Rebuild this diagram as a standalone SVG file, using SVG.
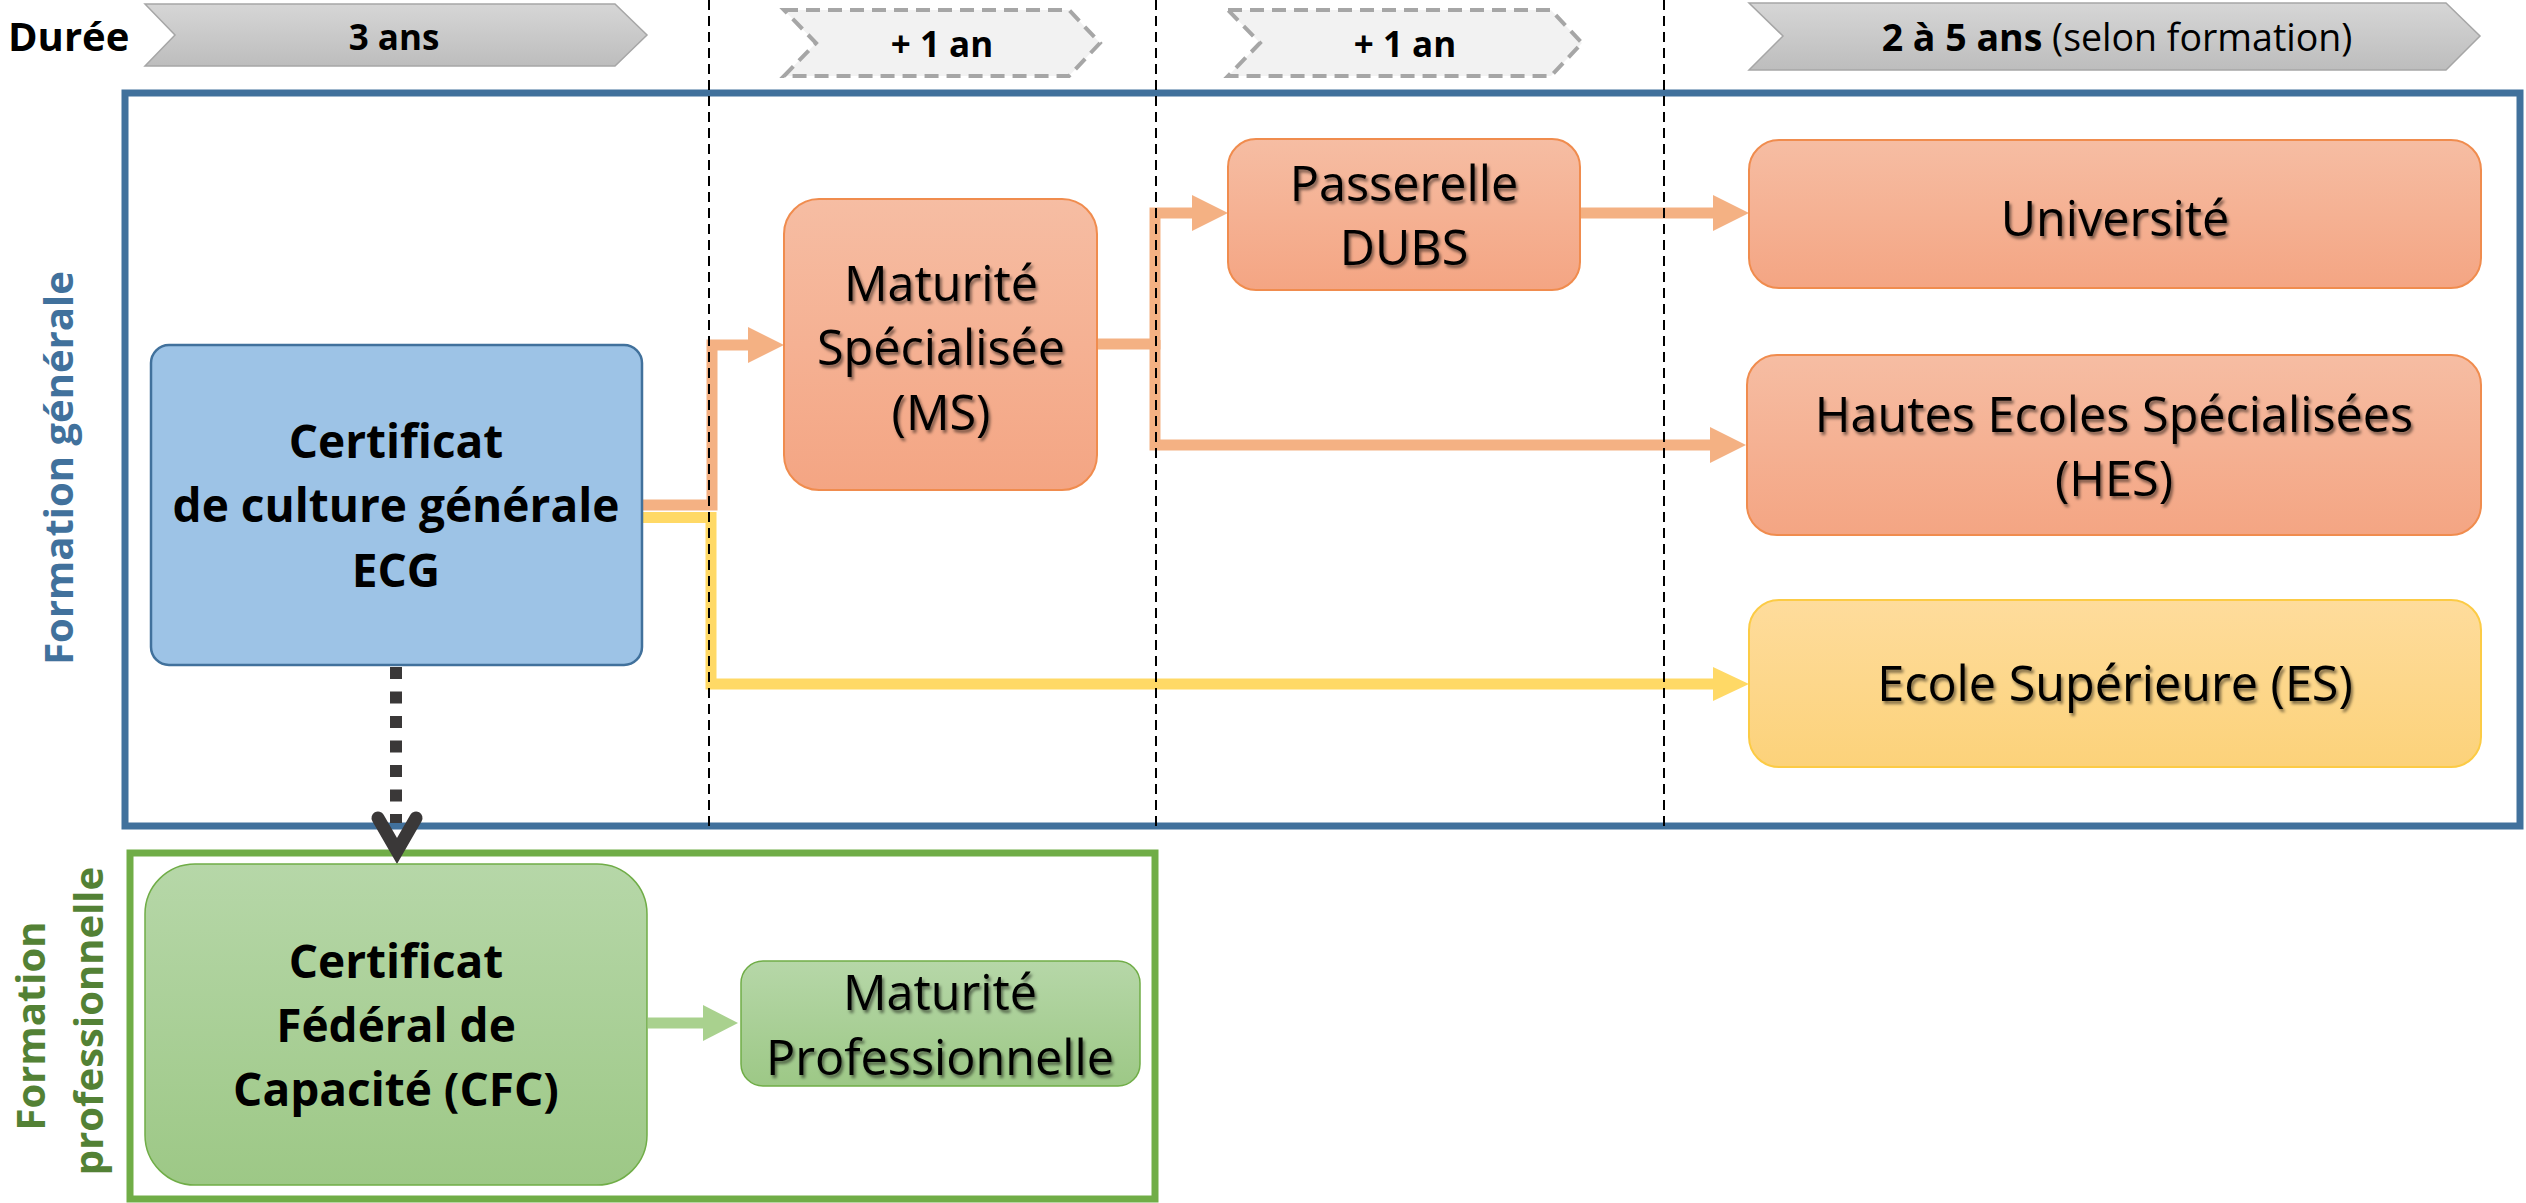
<svg xmlns="http://www.w3.org/2000/svg" width="2526" height="1203" viewBox="0 0 2526 1203">
<defs>
<linearGradient id="gGray" x1="0" y1="0" x2="0" y2="1"><stop offset="0" stop-color="#D6D6D6"/><stop offset="1" stop-color="#BDBDBD"/></linearGradient>
<linearGradient id="gOrange" x1="0" y1="0" x2="0" y2="1"><stop offset="0" stop-color="#F6BDA3"/><stop offset="1" stop-color="#F4A583"/></linearGradient>
<linearGradient id="gYellow" x1="0" y1="0" x2="0" y2="1"><stop offset="0" stop-color="#FEDC9C"/><stop offset="1" stop-color="#FCD27A"/></linearGradient>
<linearGradient id="gGreen" x1="0" y1="0" x2="0" y2="1"><stop offset="0" stop-color="#B6D7A8"/><stop offset="1" stop-color="#9DC886"/></linearGradient>
<filter id="shadow" x="-10%" y="-20%" width="120%" height="150%"><feDropShadow dx="2" dy="3" stdDeviation="1.5" flood-color="#000" flood-opacity="0.5"/></filter>
<marker id="hOrange" markerUnits="userSpaceOnUse" markerWidth="37" markerHeight="38" refX="1" refY="19" orient="auto"><path d="M0,1 L36,19 L0,37 z" fill="#F4B183"/></marker>
<marker id="hYellow" markerUnits="userSpaceOnUse" markerWidth="37" markerHeight="38" refX="1" refY="19" orient="auto"><path d="M0,2 L36,19 L0,36 z" fill="#FFD966"/></marker>
<marker id="hGreen" markerUnits="userSpaceOnUse" markerWidth="37" markerHeight="38" refX="1" refY="19" orient="auto"><path d="M0,1 L35,19 L0,37 z" fill="#A9D18E"/></marker>
<style>
.t{font-family:"Open Sans","Noto Sans","DejaVu Sans",sans-serif;text-anchor:middle;fill:#000}
.b{font-weight:700;font-size:46px}
.r{font-weight:400;font-size:48.5px;filter:url(#shadow)}
.hd{font-family:"Open Sans","Noto Sans",sans-serif;font-weight:700;font-size:35px;text-anchor:middle;fill:#000}
.side{font-family:"Open Sans","Noto Sans",sans-serif;font-weight:700;font-size:40px;text-anchor:middle}
.vdash{stroke:#000;stroke-width:2;stroke-dasharray:10 6;fill:none}
.chev{fill:url(#gGray);stroke:#A6A6A6;stroke-width:1.5}
.chevd{fill:#F2F2F2;stroke:#A6A6A6;stroke-width:4;stroke-dasharray:14 8}
.nO{fill:url(#gOrange);stroke:#F08C4E;stroke-width:2}
.nY{fill:url(#gYellow);stroke:#FCCB45;stroke-width:2}
.nG{fill:url(#gGreen);stroke:#70AD47;stroke-width:1.5}
.cO{fill:none;stroke:#F4B183;stroke-width:11;stroke-linejoin:miter}
.cY{fill:none;stroke:#FFD966;stroke-width:11;stroke-linejoin:miter}
.cG{fill:none;stroke:#A9D18E;stroke-width:11}
</style>
</defs>
<rect width="2526" height="1203" fill="#fff"/>

<g id="timeline">
<text x="8" y="51" style="font-family:'Open Sans','Noto Sans',sans-serif;font-weight:700;font-size:40px;fill:#000">Durée</text>
<polygon class="chev" points="145,4 615,4 647,35 615,66 145,66 175,35"/>
<text class="hd" x="394" y="50">3 ans</text>
<polygon class="chevd" points="784,10 1069,10 1100,43 1069,76 784,76 816,43"/>
<text class="hd" x="942" y="57">+ 1 an</text>
<polygon class="chevd" points="1228,10 1551,10 1582,43 1551,76 1228,76 1260,43"/>
<text class="hd" x="1405" y="57">+ 1 an</text>
<polygon class="chev" points="1749,3 2446,3 2480,36 2446,70 1749,70 1783,36"/>
<text class="hd" x="2117" y="51" style="font-size:37.5px">2 à 5 ans<tspan style="font-weight:400"> (selon formation)</tspan></text>
</g>

<g id="frames">
<rect id="frame-generale" x="125" y="93" width="2395" height="733" fill="none" stroke="#41719C" stroke-width="7"/>
<rect id="frame-pro" x="130" y="853" width="1025" height="346" fill="none" stroke="#70AD47" stroke-width="7"/>
<text class="side" fill="#41719C" transform="translate(73,468) rotate(-90)">Formation générale</text>
<text class="side" fill="#538135" transform="translate(45,1026) rotate(-90)">Formation</text>
<text class="side" fill="#538135" transform="translate(103,1021) rotate(-90)">professionnelle</text>
</g>

<g id="connectors">
<path class="cO" d="M642,505 H712 V345 H749" marker-end="url(#hOrange)"/>
<path class="cY" d="M642,517.5 H711 V684 H1714" marker-end="url(#hYellow)"/>
<path class="cO" d="M1097,344 H1155 V213 H1193" marker-end="url(#hOrange)"/>
<path class="cO" d="M1155,340 V445 H1711" marker-end="url(#hOrange)"/>
<path class="cO" d="M1580,213 H1714" marker-end="url(#hOrange)"/>
<path class="cG" d="M648,1023 H704" marker-end="url(#hGreen)"/>
<path d="M396,667 V823" fill="none" stroke="#3A3838" stroke-width="12" stroke-dasharray="12 12.5"/>
<polyline points="378,818 397,851 416,818" fill="none" stroke="#3A3838" stroke-width="13" stroke-linecap="round" stroke-linejoin="miter" stroke-miterlimit="10"/>
</g>

<g id="gridlines">
<line class="vdash" x1="709" y1="0" x2="709" y2="826"/>
<line class="vdash" x1="1156" y1="0" x2="1156" y2="826"/>
<line class="vdash" x1="1664" y1="0" x2="1664" y2="826"/>
</g>

<g id="node-ecg">
<rect x="151" y="345" width="491" height="320" rx="18" fill="#9DC3E6" stroke="#41719C" stroke-width="2.5"/>
<text class="t b"><tspan x="396" y="458">Certificat</tspan><tspan x="396" y="522">de culture générale</tspan><tspan x="396" y="587">ECG</tspan></text>
</g>

<g id="node-ms">
<rect class="nO" x="784" y="199" width="313" height="291" rx="35"/>
<text class="t r"><tspan x="941" y="301">Maturité</tspan><tspan x="941" y="365">Spécialisée</tspan><tspan x="941" y="430">(MS)</tspan></text>
</g>

<g id="node-dubs">
<rect class="nO" x="1228" y="139" width="352" height="151" rx="28"/>
<text class="t r"><tspan x="1404" y="201">Passerelle</tspan><tspan x="1404" y="265">DUBS</tspan></text>
</g>

<g id="node-uni">
<rect class="nO" x="1749" y="140" width="732" height="148" rx="30"/>
<text class="t r" x="2115" y="236">Université</text>
</g>

<g id="node-hes">
<rect class="nO" x="1747" y="355" width="734" height="180" rx="30"/>
<text class="t r"><tspan x="2114" y="432">Hautes Ecoles Spécialisées</tspan><tspan x="2114" y="496">(HES)</tspan></text>
</g>

<g id="node-es">
<rect class="nY" x="1749" y="600" width="732" height="167" rx="30"/>
<text class="t r" x="2115" y="701">Ecole Supérieure (ES)</text>
</g>

<g id="node-cfc">
<rect class="nG" x="145" y="864" width="502" height="321" rx="50"/>
<text class="t b"><tspan x="396" y="978">Certificat</tspan><tspan x="396" y="1042">Fédéral de</tspan><tspan x="396" y="1106">Capacité (CFC)</tspan></text>
</g>

<g id="node-mp">
<rect class="nG" x="741" y="961" width="399" height="125" rx="22"/>
<text class="t r"><tspan x="940" y="1010">Maturité</tspan><tspan x="940" y="1075">Professionnelle</tspan></text>
</g>
</svg>
